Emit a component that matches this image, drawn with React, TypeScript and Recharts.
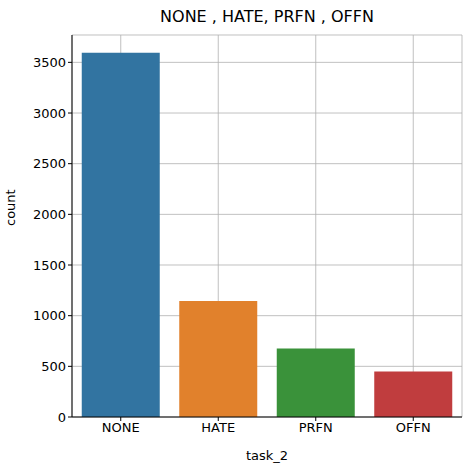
import { BarChart, Bar, XAxis, YAxis, CartesianGrid, Cell } from "recharts";

const categories = ["NONE", "HATE", "PRFN", "OFFN"];
const counts = [3595, 1145, 675, 450];
const colors = ["#3274a1", "#e1812c", "#3a923a", "#c03d3e"];
const yTicks = [0, 500, 1000, 1500, 2000, 2500, 3000, 3500];

const data = categories.map((c, i) => ({ task_2: c, count: counts[i] }));

const font = "DejaVu Sans, sans-serif";

const App = () => {
  return (
    <div style={{ position: "absolute", left: 0, top: 0, width: 471, height: 470, background: "#fff", fontFamily: font }}>
      <div style={{ position: "absolute", top: 7, left: 72, width: 390, textAlign: "center", fontSize: 16 }}>
        NONE , HATE, PRFN , OFFN
      </div>
      <BarChart
        width={471}
        height={470}
        data={data}
        margin={{ top: 35, right: 9, bottom: 0, left: 0 }}
        barCategoryGap="10%"
      >
        <XAxis
          dataKey="task_2"
          height={53}
          stroke="#000"
          tick={{ fill: "#000", fontSize: 13, fontFamily: font }}
          tickSize={4}
          label={{ value: "task_2", position: "insideBottom", offset: 10, fill: "#000", fontSize: 13, fontFamily: font }}
        />
        <XAxis xAxisId="top" dataKey="task_2" orientation="top" height={0} tick={false} tickLine={false} stroke="#000" />
        <YAxis
          width={72}
          domain={[0, 3770]}
          ticks={yTicks}
          stroke="#000"
          tick={{ fill: "#000", fontSize: 13, fontFamily: font }}
          tickSize={4}
          label={{ value: "count", angle: -90, position: "insideLeft", offset: 10, fill: "#000", fontSize: 13, fontFamily: font }}
        />
        <YAxis yAxisId="right" orientation="right" width={0} tick={false} tickLine={false} stroke="#000" domain={[0, 3770]} />
        <Bar dataKey="count" isAnimationActive={false}>
          {data.map((d, i) => (
            <Cell key={d.task_2} fill={colors[i]} />
          ))}
        </Bar>
        <CartesianGrid stroke="#b0b0b0" strokeOpacity={0.8} />
      </BarChart>
    </div>
  );
};

export default App;
